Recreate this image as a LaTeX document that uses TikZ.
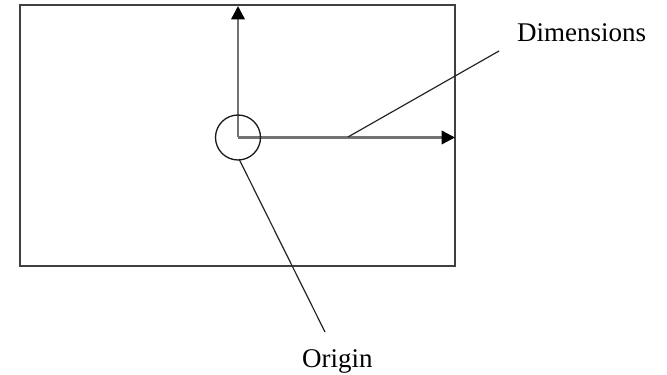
\documentclass[tikz,border=0pt]{standalone}
\usepackage{fontspec}
\setmainfont{Liberation Serif}
\usetikzlibrary{arrows.meta}
\begin{document}
\begin{tikzpicture}[x=1pt,y=1pt,
  frame/.style={draw=black!75,line width=2.2pt},
  axis/.style={draw=black!55,line width=2.4pt,-{Triangle[length=13.5pt,width=13.5pt,color=black]}},
  leader/.style={draw=black!85,line width=1.2pt},
  lbl/.style={font=\fontsize{27}{30}\selectfont,inner sep=0pt}]
\useasboundingbox[fill=white] (0,0) rectangle (667,375);
\draw[frame] (20,109) rectangle (455,370);
\coordinate (o) at (238,237.5);
\coordinate (ytip) at (238,369);
\coordinate (xtip) at (455,237.5);
\draw[axis] (o) -- (ytip);
\draw[axis] (o) -- (xtip);
\node[draw=black!90,line width=1.3pt,circle,minimum size=45pt,inner sep=0pt] (circ) at (o) {};
\coordinate (dimstart) at (348,238);
\coordinate (dimend) at (499,324);
\coordinate (orgstart) at (239,216);
\coordinate (orgend) at (325,43);
\node[lbl,anchor=base west] (dimtext) at (517,333) {Dimensions};
\node[lbl,anchor=base west] (orgtext) at (302,7) {Origin};
\draw[leader] (dimstart) -- (dimend);
\draw[leader] (orgstart) -- (orgend);
\end{tikzpicture}
\end{document}
